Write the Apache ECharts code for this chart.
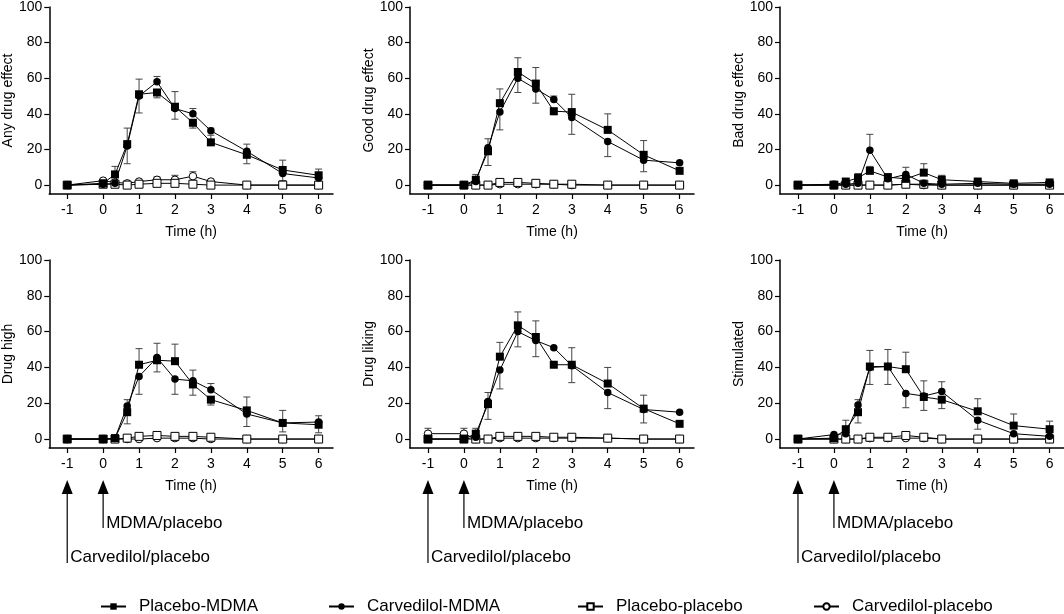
<!DOCTYPE html>
<html>
<head>
<meta charset="utf-8">
<script src="https://cdn.jsdelivr.net/npm/echarts@6/dist/echarts.min.js"></script>
<style>html,body{margin:0;padding:0;background:#fff}#c{width:1064px;height:614px}</style>
</head>
<body>
<div id="c"></div>
<script>
// ---- data ----
const times = [-1, 0, 0.33, 0.67, 1, 1.5, 2, 2.5, 3, 4, 5, 6];
const xTicks = [-1, 0, 1, 2, 3, 4, 5, 6];
const yTicks = [0, 20, 40, 60, 80, 100];
const seriesNames = ['Placebo-MDMA', 'Carvedilol-MDMA', 'Placebo-placebo', 'Carvedilol-placebo'];
const panelTitles = ['Any drug effect', 'Good drug effect', 'Bad drug effect', 'Drug high', 'Drug liking', 'Stimulated'];

// Any drug effect
const anyPM    = [0, 1, 6, 23, 51, 52, 44, 35, 24, 17, 8.5, 5.5];
const anyPMerr = [0, 0, 4.5, 9, 8.5, -3, 8.5, -3, 4, -5, 5.5, 3.5];
const anyCM    = [0, 0.5, 1, 22, 50, 58, 43, 40, 30.5, 19, 6.5, 4];
const anyCMerr = [0, 0, 0, -10, -9.5, 3, -6, 3, 1.5, 4, -4, -2];
const anyPP    = [0, 0.5, 0.5, 0, 0.5, 1, 1, 0.5, 0, 0, 0, 0];
const anyPPerr = [0, 0, 0, 0, 0, 0, 0, 0, 0, 0, 0, 0];
const anyCP    = [0, 2.5, 1.5, 1, 2, 3, 3, 5, 2, 0, 0, 0];
const anyCPerr = [0, 0, 0, 0, 0, 1.5, 2.5, 2.5, 0, 0, 0, 0];

// Good drug effect
const goodPM    = [0, 0, 3, 19, 46, 63.5, 57, 41.5, 41, 31, 17, 8];
const goodPMerr = [0, 0, 3, 7, 8, 8, 9, -2, 10, 9, 8, 0];
const goodCM    = [0, 0, 2, 21, 41, 60, 54, 48, 38, 24.5, 14, 12.5];
const goodCMerr = [0, 0, 0, -10, -10, -8, -8, 2, -9.5, -8.5, -6.5, 0];
const goodPP    = [0, 0, 0, 0, 1.5, 1.5, 1, 0.5, 0.5, 0, 0, 0];
const goodPPerr = [0, 0, 0, 0, 0, 0, 0, 0, 0, 0, 0, 0];
const goodCP    = [0, 0, 0, 0, 0.5, 0.5, 0.5, 0.5, 0, 0, 0, 0];
const goodCPerr = [0, 0, 0, 0, 0, 0, 0, 0, 0, 0, 0, 0];

// Bad drug effect
const badPM    = [0, 0, 2, 4, 8, 4.5, 3.5, 7, 3, 2, 1, 1.5];
const badPMerr = [0, 0, 0, 2.5, 2.5, 1.5, 0, 5, 2.5, 0.5, 0, 0];
const badCM    = [0, 0.5, 0.5, 1, 19.5, 3.5, 6, 1, 0.5, 1, 0.5, 0.5];
const badCMerr = [0, 0, 0, 0, 9, 0, 4, 0, 0, 0, 0, 0];
const badPP    = [0, 0, 0, 0, 0, 0, 0.5, 0.5, 0, 0, 0, 0];
const badPPerr = [0, 0, 0, 0, 0, 0, 0, 0, 0, 0, 0, 0];
const badCP    = [0, 0, 0, 0, 0, 0, 0.5, 0, 0, 0, 0, 0];
const badCPerr = [0, 0, 0, 0, 0, 0, 0, 0, 0, 0, 0, 0];

// Drug high
const highPM    = [0, 0, 0.5, 15, 41.5, 44, 43.5, 30.5, 22, 16, 9, 8];
const highPMerr = [0, 0, 0, -6.5, 9, -6.5, 9.5, -6, -3, 7.5, 7, -4.5];
const highCM    = [0, 0, 0.5, 18.5, 35, 45.5, 33.5, 32.5, 27.5, 14, 9, 9.5];
const highCMerr = [0, 0, 0, 3.5, -10, 8, -8.5, 6, 3.5, -7, -5, 3.5];
const highPP    = [0, 0, 0, 0.5, 1.5, 2, 1.5, 1.5, 1, 0, 0, 0];
const highPPerr = [0, 0, 0, 0, 0, 0, 0, 0, 0, 0, 0, 0];
const highCP    = [0, 0, 0, 0, 0, 0.5, 0.5, 0.5, 0, 0, 0, 0];
const highCPerr = [0, 0, 0, 0, 0, 0, 0, 0, 0, 0, 0, 0];

// Drug liking
const likePM    = [0, 0, 3, 19.5, 46, 63.5, 57, 41.5, 41.5, 31, 17, 8.5];
const likePMerr = [0, 0, 3, 6.5, 8, 7.5, 9, 0, 9.5, 9, 7.5, 0];
const likeCM    = [0, 0, 1, 21, 38.5, 60, 55, 51, 41, 26, 16.5, 15];
const likeCMerr = [0, 0, 0, -10, -10.5, -8.5, -9, 0, -9.5, -9, -7.5, 0];
const likePP    = [0, 0, 0, 0, 1.5, 1.5, 1.5, 1, 1, 0.5, 0, 0];
const likePPerr = [0, 0, 0, 0, 0, 0, 0, 0, 0, 0, 0, 0];
const likeCP    = [3, 3, 0, 0, 0.5, 0.5, 0.5, 0.5, 0.5, 0.5, 0, 0];
const likeCPerr = [3, 3, 0, 0, 0, 0, 0, 0, 0, 0, 0, 0];

// Stimulated
const stimPM    = [0, 0.5, 5.5, 15, 40.5, 40.5, 39, 23.5, 22, 15.5, 7.5, 5.5];
const stimPMerr = [0, 0, 5, -6, 9, 9.5, 9.5, 9, -5, 7, 6.5, 4.5];
const stimCM    = [0, 2.5, 3, 19, 40, 40.5, 25.5, 24, 26.5, 10.5, 3, 1.5];
const stimCMerr = [0, 0, 0, 3, -9.5, -10, -8, -8, 5.5, -5, 0, 0];
const stimPP    = [0, 0, 0, 0, 1, 1, 2, 1, 0, 0, 0, 0];
const stimPPerr = [0, 0, 0, 0, 0, 0, 0, 0, 0, 0, 0, 0];
const stimCP    = [0, 0, 0, 0, 0.5, 0.5, 0.5, 0.5, 0, 0, 0, 0];
const stimCPerr = [0, 0, 0, 0, 0, 0, 0, 0, 0, 0, 0, 0];

const panelMeans = [
  [anyPM, anyCM, anyPP, anyCP],
  [goodPM, goodCM, goodPP, goodCP],
  [badPM, badCM, badPP, badCP],
  [highPM, highCM, highPP, highCP],
  [likePM, likeCM, likePP, likeCP],
  [stimPM, stimCM, stimPP, stimCP]
];
const panelErrs = [
  [anyPMerr, anyCMerr, anyPPerr, anyCPerr],
  [goodPMerr, goodCMerr, goodPPerr, goodCPerr],
  [badPMerr, badCMerr, badPPerr, badCPerr],
  [highPMerr, highCMerr, highPPerr, highCPerr],
  [likePMerr, likeCMerr, likePPerr, likeCPerr],
  [stimPMerr, stimCMerr, stimPPerr, stimCPerr]
];

// ---- layout / style ----
const FONT = 'Liberation Sans, Arial, sans-serif';
const colLeft = [49, 410, 780];
const rowTop = [6, 260];
const symbols = ['rect', 'circle', 'rect', 'circle'];
const filled = [true, true, false, false];
const drawOrder = [3, 2, 1, 0]; // open markers underneath, Placebo-MDMA on top

const grids = [], xAxes = [], yAxes = [], series = [];
for (let p = 0; p < 6; p++) {
  const col = p % 3, row = Math.floor(p / 3);
  grids.push({ left: colLeft[col], top: rowTop[row], width: 284, height: 188 });
  xAxes.push({
    gridIndex: p, type: 'value', min: -1.5, max: 6.4,
    name: 'Time (h)', nameLocation: 'middle', nameGap: 31,
    nameTextStyle: { fontSize: 14, color: '#000', fontFamily: FONT },
    axisLine: { onZero: false, lineStyle: { color: '#000', width: 1.5 } },
    axisTick: { customValues: xTicks, length: 5, lineStyle: { color: '#000', width: 1.2 } },
    axisLabel: { customValues: xTicks, fontSize: 14, color: '#000', margin: 9, fontFamily: FONT },
    splitLine: { show: false }
  });
  yAxes.push({
    gridIndex: p, type: 'value', min: -5, max: 100,
    name: panelTitles[p], nameLocation: 'middle', nameGap: 34,
    nameTextStyle: { fontSize: 14, color: '#000', fontFamily: FONT },
    axisLine: { show: true, onZero: false, lineStyle: { color: '#000', width: 1.5 } },
    axisTick: { show: true, customValues: yTicks, length: 5, lineStyle: { color: '#000', width: 1.2 } },
    axisLabel: { customValues: yTicks, fontSize: 14, color: '#000', margin: 7, fontFamily: FONT },
    splitLine: { show: false }
  });
  // error bars
  for (let s = 0; s < 4; s++) {
    const mean = panelMeans[p][s], err = panelErrs[p][s];
    const d = times.map((t, i) => [t, mean[i], err[i]]).filter(v => v[2] !== 0);
    if (!d.length) continue;
    series.push({
      type: 'custom', name: 'err', xAxisIndex: p, yAxisIndex: p, silent: true, z: 1,
      encode: { x: 0, y: 1 }, data: d,
      renderItem: function (params, api) {
        const x = api.value(0), y = api.value(1), e = api.value(2);
        const a = api.coord([x, y]), b = api.coord([x, y + e]);
        return { type: 'group', children: [
          { type: 'line', shape: { x1: a[0], y1: a[1], x2: b[0], y2: b[1] }, style: { stroke: '#444', lineWidth: 1 } },
          { type: 'line', shape: { x1: b[0] - 3.5, y1: b[1], x2: b[0] + 3.5, y2: b[1] }, style: { stroke: '#444', lineWidth: 1 } }
        ] };
      }
    });
  }
  drawOrder.forEach((s, k) => {
    series.push({
      type: 'line', name: seriesNames[s], xAxisIndex: p, yAxisIndex: p, z: 2 + k,
      data: times.map((t, i) => [t, panelMeans[p][s][i]]),
      symbol: symbols[s], symbolSize: symbols[s] === 'rect' ? 8 : 7.5, showAllSymbol: true,
      lineStyle: { color: '#000', width: 1 },
      itemStyle: filled[s] ? { color: '#000' } : { color: '#fff', borderColor: '#000', borderWidth: 1 },
      emphasis: { disabled: true }
    });
  });
}

const legendLeft = [100, 328, 577, 813];
const legends = seriesNames.map((n, i) => ({
  data: [n], left: legendLeft[i], top: 598, orient: 'horizontal', padding: 0,
  itemWidth: 25, itemHeight: 8, selectedMode: false,
  textStyle: { fontSize: 17, color: '#000', fontFamily: FONT, padding: [0, 0, 0, 8] }
}));

const chart = echarts.init(document.getElementById('c'));
chart.setOption({
  animation: false,
  backgroundColor: '#fff',
  textStyle: { fontFamily: FONT },
  grid: grids, xAxis: xAxes, yAxis: yAxes, series: series, legend: legends
});

// ---- dosing arrows under the bottom-row panels ----
const graphics = [];
for (let p = 3; p < 6; p++) {
  const bottom = chart.convertToPixel({ yAxisIndex: p }, -5);
  const xm1 = chart.convertToPixel({ xAxisIndex: p }, -1);
  const x0 = chart.convertToPixel({ xAxisIndex: p }, 0);
  const tip = bottom + 32;
  [[xm1, 83, 'Carvedilol/placebo', 77], [x0, 48, 'MDMA/placebo', 43]].forEach(([x, len, label, ty]) => {
    graphics.push({ type: 'polygon', shape: { points: [[x, tip], [x - 5.5, tip + 14], [x + 5.5, tip + 14]] }, style: { fill: '#000' } });
    graphics.push({ type: 'line', shape: { x1: x, y1: tip + 13, x2: x, y2: tip + len }, style: { stroke: '#000', lineWidth: 1.2 } });
    graphics.push({ type: 'text', x: x + 3, y: tip + ty, style: { text: label, fontSize: 17, fill: '#000', fontFamily: FONT, verticalAlign: 'middle', align: 'left' } });
  });
}
chart.setOption({ graphic: graphics });
</script>
</body>
</html>
